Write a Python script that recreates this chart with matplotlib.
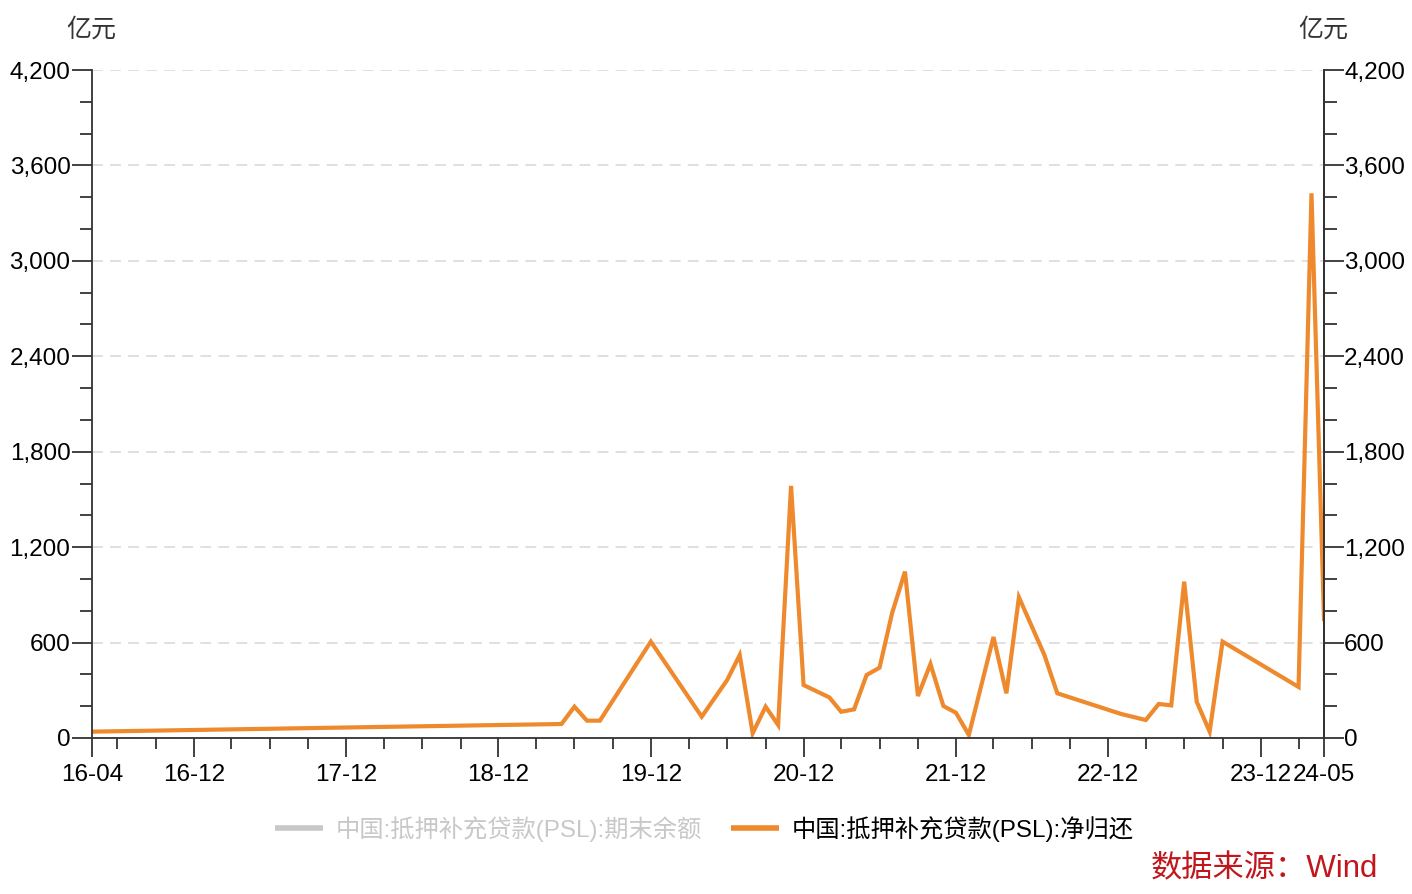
import datetime as dt
import matplotlib
matplotlib.use("Agg")
import matplotlib.pyplot as plt
import matplotlib.dates as mdates
from matplotlib.ticker import MultipleLocator, FuncFormatter

plt.rcParams['font.family'] = ['Liberation Sans', 'Noto Sans CJK SC', 'DejaVu Sans']

# PSL net repayment, monthly (gaps where no net repayment)
months = ["2016-04", "2019-05", "2019-06", "2019-07", "2019-08", "2019-12",
          "2020-04", "2020-06", "2020-07", "2020-08", "2020-09", "2020-10",
          "2020-11", "2020-12", "2021-02", "2021-03", "2021-04", "2021-05",
          "2021-06", "2021-07", "2021-08", "2021-09", "2021-10", "2021-11",
          "2021-12", "2022-01", "2022-03", "2022-04", "2022-05", "2022-07",
          "2022-08", "2023-01", "2023-03", "2023-04", "2023-05", "2023-06",
          "2023-07", "2023-08", "2023-09", "2024-03", "2024-04", "2024-05"]
net_return = [40, 88, 197, 109, 109, 606,
              134, 365, 522, 30, 197, 82,
              1585, 333, 255, 165, 180, 396,
              442, 784, 1046, 264, 465, 201,
              159, 19, 635, 281, 885, 522,
              281, 151, 113, 214, 205, 983,
              228, 40, 606, 321, 3425, 748]

series_names = ["中国:抵押补充贷款(PSL):期末余额", "中国:抵押补充贷款(PSL):净归还"]
tick_months = ["2016-04", "2016-12", "2017-12", "2018-12", "2019-12",
               "2020-12", "2021-12", "2022-12", "2023-12", "2024-05"]

dates = [dt.datetime.strptime(m, "%Y-%m") for m in months]
tick_dates = [dt.datetime.strptime(m, "%Y-%m") for m in tick_months]

axis_col = "#333333"
orange = "#EE8A2D"
gray = "#C8C8C8"
fs = 17.5

fig = plt.figure(figsize=(14.12, 8.94), dpi=100)
ax = fig.add_axes([92 / 1412, 1 - 738 / 894, 1232 / 1412, 668 / 894])

ln_bal, = ax.plot([], [], color=gray, lw=4, solid_capstyle='butt')
ln_net, = ax.plot(dates, net_return, color=orange, lw=3, solid_joinstyle='miter')

ax.set_xlim(tick_dates[0], tick_dates[-1])
ax.set_ylim(0, 4200)
ax.yaxis.set_major_locator(MultipleLocator(600))
ax.yaxis.set_minor_locator(MultipleLocator(200))
fmt = FuncFormatter(lambda v, p: f"{int(v):,}")
ax.yaxis.set_major_formatter(fmt)

ax.set_xticks(tick_dates)
ax.set_xticklabels([m[2:] for m in tick_months])
ax.xaxis.set_minor_locator(mdates.MonthLocator(bymonth=[3, 6, 9]))

ax.grid(axis='y', which='major', color='#DDDDDD', lw=1.3, ls=(0, (6, 4)))
ax.set_axisbelow(True)

ax.spines["top"].set_visible(False)
for s in ["left", "right", "bottom"]:
    ax.spines[s].set_color(axis_col)
    ax.spines[s].set_linewidth(1.3)

ax.tick_params(axis='y', which='major', length=14.5, width=1.3, color=axis_col,
               labelsize=fs, pad=1, labelcolor='black')
ax.tick_params(axis='y', which='minor', length=9, width=1.3, color=axis_col)
ax.tick_params(axis='x', which='major', length=14, width=1.3, color=axis_col,
               labelsize=fs, pad=5, labelcolor='black')
ax.tick_params(axis='x', which='minor', length=8, width=1.3, color=axis_col)

ax2 = ax.twinx()
ax2.set_ylim(ax.get_ylim())
ax2.yaxis.set_major_locator(MultipleLocator(600))
ax2.yaxis.set_minor_locator(MultipleLocator(200))
ax2.yaxis.set_major_formatter(fmt)
for s in ["top", "left", "bottom"]:
    ax2.spines[s].set_visible(False)
ax2.spines["right"].set_color(axis_col)
ax2.spines["right"].set_linewidth(1.3)
ax2.tick_params(axis='y', which='major', length=14.5, width=1.3, color=axis_col,
                labelsize=fs, pad=0, labelcolor='black')
ax2.tick_params(axis='y', which='minor', length=9, width=1.3, color=axis_col)

fig.text(91 / 1412, 1 - 30 / 894, "亿元", ha='center', va='center', fontsize=18, color='#333333')
fig.text(1323 / 1412, 1 - 30 / 894, "亿元", ha='center', va='center', fontsize=18, color='#333333')

leg = fig.legend([ln_bal, ln_net], series_names, loc='center', ncol=2,
                 bbox_to_anchor=(704 / 1412, 1 - 829 / 894), frameon=False,
                 fontsize=fs, handlelength=2.0, handletextpad=0.5, columnspacing=1.2)
for h in leg.get_lines():
    h.set_linewidth(4)
    h.set_solid_capstyle('butt')
leg.get_texts()[0].set_color(gray)
leg.get_texts()[1].set_color('black')

fig.text(1378 / 1412, 1 - 869 / 894, "数据来源：Wind", ha='right', va='center',
         fontsize=22.5, color='#C0161C')

fig.savefig("out.png", dpi=100)
